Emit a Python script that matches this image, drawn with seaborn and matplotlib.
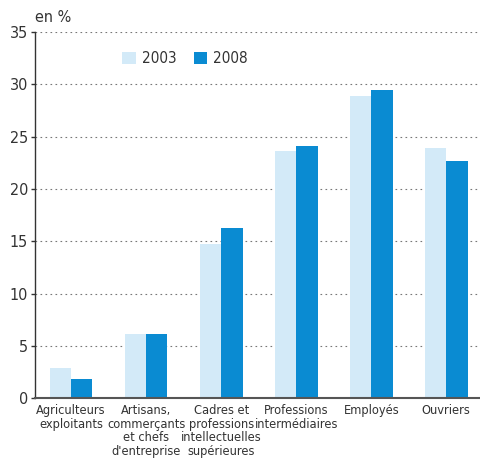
import pandas as pd
import matplotlib.pyplot as plt
import seaborn as sns

# Data
categories = [
    "Agriculteurs\nexploitants",
    "Artisans,\ncommerçants\net chefs\nd'entreprise",
    "Cadres et\nprofessions\nintellectuelles\nsupérieures",
    "Professions\nintermédiaires",
    "Employés",
    "Ouvriers",
]
values_2003 = [2.9, 6.1, 14.7, 23.6, 28.9, 23.9]
values_2008 = [1.8, 6.1, 16.3, 24.1, 29.4, 22.7]
years = ["2003", "2008"]

df = pd.DataFrame({
    "categorie": categories * 2,
    "annee": [years[0]] * len(categories) + [years[1]] * len(categories),
    "valeur": values_2003 + values_2008,
})

sns.set_style("white")
plt.rcParams["font.family"] = ["DejaVu Sans"]
plt.rcParams["font.stretch"] = "condensed"

fig = plt.figure(figsize=(4.8, 4.62), dpi=100)
ax = fig.add_axes([0.073, 0.138, 0.927, 0.793])

palette = {"2003": "#d3eaf8", "2008": "#0a8bd2"}
sns.barplot(
    data=df, x="categorie", y="valeur", hue="annee",
    palette=palette, width=0.57, saturation=1, linewidth=0, ax=ax,
)

ax.set_ylim(0, 35)
ax.set_xlim(-0.48, 5.45)
ax.set_yticks(range(0, 36, 5))
ax.yaxis.grid(True, linestyle=(0, (1.5, 3)), color="#777777", linewidth=0.8)
ax.set_axisbelow(True)
ax.set_xlabel("")
ax.set_ylabel("")

for side in ["top", "right"]:
    ax.spines[side].set_visible(False)
ax.spines["left"].set_color("#333333")
ax.spines["bottom"].set_color("#555555")
ax.spines["left"].set_linewidth(1.0)
ax.spines["bottom"].set_linewidth(1.5)

ax.tick_params(axis="y", length=3, width=1, color="#333333",
               labelsize=11.5, labelcolor="#333333", pad=2, left=True)
ax.tick_params(axis="x", length=0, labelsize=9.2, labelcolor="#333333", pad=4)
for lab in ax.get_xticklabels():
    lab.set_linespacing(1.08)

ax.text(0.0, 1.02, "en %", transform=ax.transAxes, fontsize=11.5,
        color="#333333", ha="left", va="bottom")

ax.legend(loc="upper left", bbox_to_anchor=(0.165, 0.985), ncol=2, frameon=False,
          fontsize=11, handlelength=0.9, handleheight=0.9,
          handletextpad=0.4, columnspacing=1.1, labelcolor="#333333")

fig.savefig("out.png", dpi=100)
